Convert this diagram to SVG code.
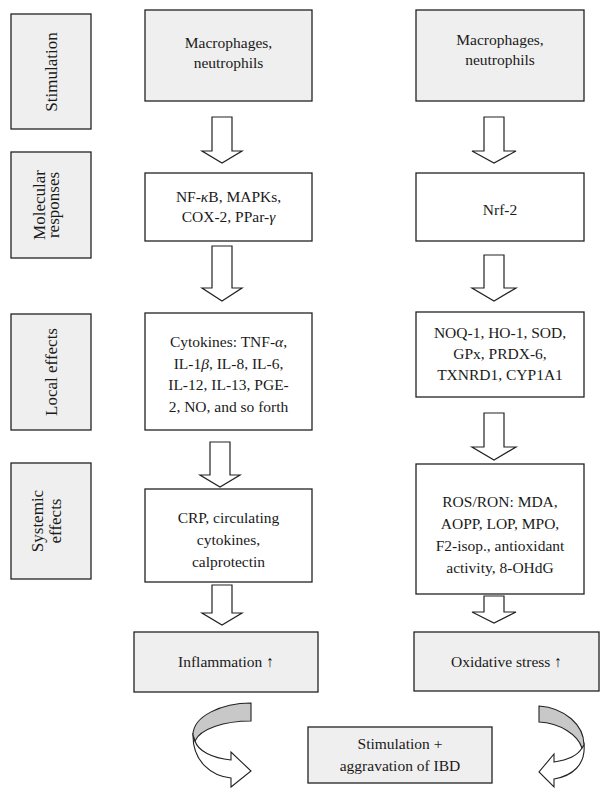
<svg xmlns="http://www.w3.org/2000/svg" width="610" height="803" viewBox="0 0 610 803">
<style>
.bx{stroke:#222;stroke-width:1.3;}
.g{fill:#efefef;}
.w{fill:#ffffff;}
.t{font-family:"Liberation Serif","Times New Roman",serif;font-size:15.5px;fill:#1a1a1a;text-anchor:middle;}
.lb{font-size:17px;}
.ar{fill:#fff;stroke:#222;stroke-width:1.2;stroke-linejoin:miter;}
.cg{fill:#c8c8c8;stroke:#222;stroke-width:1.1;}
.cw{fill:#fff;stroke:#222;stroke-width:1.1;}
</style>
<rect width="610" height="803" fill="#fff"/>

<g id="label-stimulation">
<rect class="bx g" x="11" y="14" width="80" height="115"/>
<text class="t lb" transform="translate(57,72) rotate(-90)">Stimulation</text>
</g>
<g id="label-molecular">
<rect class="bx g" x="11" y="152" width="80" height="106"/>
<text class="t lb" transform="translate(45,205) rotate(-90)">Molecular</text>
<text class="t lb" transform="translate(59,205) rotate(-90)">responses</text>
</g>
<g id="label-local">
<rect class="bx g" x="11" y="314" width="80" height="116"/>
<text class="t lb" transform="translate(57,372) rotate(-90)">Local effects</text>
</g>
<g id="label-systemic">
<rect class="bx g" x="11" y="463" width="80" height="116"/>
<text class="t lb" transform="translate(43,521) rotate(-90)">Systemic</text>
<text class="t lb" transform="translate(61,521) rotate(-90)">effects</text>
</g>

<g id="left-macrophages">
<rect class="bx g" x="145" y="10" width="167" height="91"/>
<text class="t" x="228.5" y="48">Macrophages,</text>
<text class="t" x="228.5" y="68">neutrophils</text>
</g>
<g id="right-macrophages">
<rect class="bx g" x="416" y="10" width="168" height="91"/>
<text class="t" x="500" y="45">Macrophages,</text>
<text class="t" x="500" y="65">neutrophils</text>
</g>
<g id="left-molecular">
<rect class="bx w" x="145" y="173" width="167" height="68"/>
<text class="t" x="228.5" y="202">NF-<tspan font-style="italic">κ</tspan>B, MAPKs,</text>
<text class="t" x="228.5" y="222">COX-2, PPar-<tspan font-style="italic">γ</tspan></text>
</g>
<g id="right-nrf2">
<rect class="bx w" x="416" y="173" width="168" height="68"/>
<text class="t" x="500" y="215">Nrf-2</text>
</g>
<g id="left-local">
<rect class="bx w" x="145" y="313" width="167" height="117"/>
<text class="t" x="228.5" y="347">Cytokines: TNF-<tspan font-style="italic">α</tspan>,</text>
<text class="t" x="228.5" y="369">IL-1<tspan font-style="italic">β</tspan>, IL-8, IL-6,</text>
<text class="t" x="228.5" y="390">IL-12, IL-13, PGE-</text>
<text class="t" x="228.5" y="412">2, NO, and so forth</text>
</g>
<g id="right-local">
<rect class="bx w" x="416" y="312" width="168" height="85"/>
<text class="t" x="500" y="338">NOQ-1, HO-1, SOD,</text>
<text class="t" x="500" y="359">GPx, PRDX-6,</text>
<text class="t" x="500" y="380">TXNRD1, CYP1A1</text>
</g>
<g id="left-systemic">
<rect class="bx w" x="145" y="489" width="167" height="93"/>
<text class="t" x="228.5" y="523">CRP, circulating</text>
<text class="t" x="228.5" y="545">cytokines,</text>
<text class="t" x="228.5" y="567">calprotectin</text>
</g>
<g id="right-systemic">
<rect class="bx w" x="416" y="464" width="168" height="130"/>
<text class="t" x="500" y="507">ROS/RON: MDA,</text>
<text class="t" x="500" y="529">AOPP, LOP, MPO,</text>
<text class="t" x="500" y="551">F2-isop., antioxidant</text>
<text class="t" x="500" y="573">activity, 8-OHdG</text>
</g>
<g id="inflammation">
<rect class="bx g" x="134" y="632" width="184" height="60"/>
<text class="t" x="226" y="667">Inflammation ↑</text>
</g>
<g id="oxidative-stress">
<rect class="bx g" x="414" y="632" width="185" height="59"/>
<text class="t" x="506.5" y="667">Oxidative stress ↑</text>
</g>
<g id="aggravation">
<rect class="bx g" x="308" y="727" width="184" height="56"/>
<text class="t" x="400" y="749">Stimulation +</text>
<text class="t" x="400" y="771">aggravation of IBD</text>
</g>

<g id="connectors">
<path class="ar" d="M212,117 H232 V151 H242 L222,163 L202,151 H212 Z"/>
<path class="ar" d="M212,246 H232 V288 H242 L222,301 L202,288 H212 Z"/>
<path class="ar" d="M210,442 H230 V475 H240 L220,487 L200,475 H210 Z"/>
<path class="ar" d="M212,585 H232 V613 H242 L222,625 L202,613 H212 Z"/>
<path class="ar" d="M484,117 H504 V151 H516 L494,163 L472,151 H484 Z"/>
<path class="ar" d="M484,255 H504 V288 H516 L494,301 L472,288 H484 Z"/>
<path class="ar" d="M484,413 H504 V447 H516 L494,460 L472,447 H484 Z"/>
<path class="ar" d="M484,596 H504 V612 H516 L494,623 L472,612 H484 Z"/>
<path class="cw" d="M193,733 C192,762 212,776 231,778 L231,787 L251,771 L231,752 L231,760 C212,758 198,751 195,741 Z"/>
<path class="cg" d="M251,703 C222,703 193,716 193,735 L195,741 C200,729 224,721 251,721 Z"/>
<path class="cw" d="M584,744 C586,765 572,776 554,779 L554,787 L539,772 L554,754 L554,762 C568,760 578,755 582,748 Z"/>
<path class="cg" d="M539,706 C565,708 584,725 584,745 L582,748 C578,735 560,723 539,722 Z"/>
</g>
</svg>
